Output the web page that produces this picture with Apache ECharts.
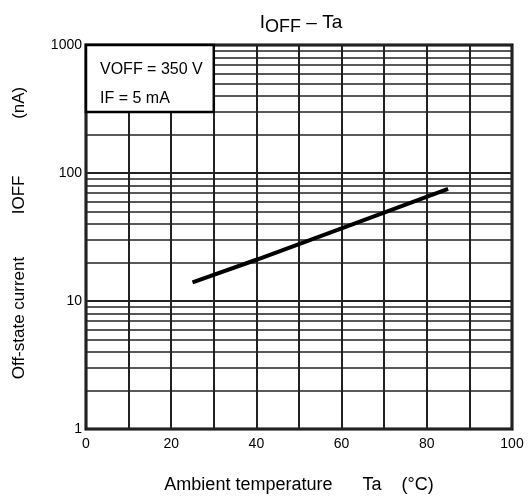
<!DOCTYPE html>
<html>
<head>
<meta charset="utf-8">
<script src="https://cdn.jsdelivr.net/npm/echarts@6/dist/echarts.min.js"></script>
<style>html,body{margin:0;padding:0;background:#fff}#c{width:528px;height:502px}</style>
</head>
<body>
<div id="c"></div>
<script>
// Data
const tempC = [25, 40, 60, 85];          // Ambient temperature Ta (°C)
const ioffNA = [14, 21, 37, 75];         // Off-state current IOFF (nA)
const xTickLabels = [0, 20, 40, 60, 80, 100];
const yTickLabels = [1, 10, 100, 1000];
const conditions = ['VOFF = 350 V', 'IF = 5 mA'];
const boxRange = {x: [0, 30], y: [300, 1000]};   // condition box extent in data units

// minor log grid lines (2..9 in each decade)
const minorY = [];
[1, 10, 100].forEach(d => { for (let k = 2; k <= 9; k++) minorY.push(k * d); });

const chart = echarts.init(document.getElementById('c'), null, {renderer: 'canvas'});
const font = 'Liberation Sans, Arial, Helvetica, sans-serif';
chart.setOption({
  animation: false,
  backgroundColor: '#fff',
  title: {
    text: '{a|I}{s|OFF}{a| – Ta}',
    left: 296, top: 5, textAlign: 'center',
    textStyle: {
      fontWeight: 'normal',
      rich: {
        a: {fontFamily: font, fontSize: 19, color: '#000', fontWeight: 'normal'},
        s: {fontFamily: font, fontSize: 18, color: '#000', fontWeight: 'normal', padding: [8, 0, 0, 0]}
      }
    }
  },
  grid: {left: 86, right: 16, top: 45, bottom: 73, show: true, borderColor: '#000', borderWidth: 3, backgroundColor: 'transparent'},
  xAxis: {
    type: 'value', min: 0, max: 100, interval: 10,
    name: 'Ambient temperature      Ta    (°C)',
    nameLocation: 'middle', nameGap: 47,
    nameTextStyle: {fontFamily: font, fontSize: 18, color: '#000'},
    axisLine: {show: false}, axisTick: {show: false},
    axisLabel: {fontFamily: font, fontSize: 14, color: '#000', margin: 8,
      formatter: v => xTickLabels.indexOf(v) >= 0 ? String(v) : ''},
    splitLine: {show: true, lineStyle: {color: '#222', width: 2}}
  },
  yAxis: {
    type: 'log', logBase: 10, min: 1, max: 1000,
    name: 'Off-state current         IOFF            (nA)',
    nameLocation: 'middle', nameGap: 58,
    nameTextStyle: {fontFamily: font, fontSize: 17, color: '#000', padding: [0, 0, 0, 8]},
    axisLine: {show: false}, axisTick: {show: false},
    axisLabel: {fontFamily: font, fontSize: 14, color: '#000', margin: 4,
      formatter: v => yTickLabels.indexOf(Math.round(v)) >= 0 ? String(Math.round(v)) : ''},
    splitLine: {show: true, lineStyle: {color: '#222', width: 2}}
  },
  series: [
    {
      type: 'line', data: [], z: 1, silent: true,
      markLine: {
        silent: true, symbol: 'none', animation: false,
        label: {show: false},
        lineStyle: {color: '#222', width: 1.5, type: 'solid'},
        data: minorY.map(v => ({yAxis: v}))
      }
    },
    {
      type: 'line', z: 5, showSymbol: false, smooth: false,
      lineStyle: {color: '#000', width: 4},
      data: tempC.map((t, i) => [t, ioffNA[i]])
    }
  ]
});

// condition box placed through the chart's own scales
const p0 = chart.convertToPixel({gridIndex: 0}, [boxRange.x[0], boxRange.y[1]]);
const p1 = chart.convertToPixel({gridIndex: 0}, [boxRange.x[1], boxRange.y[0]]);
chart.setOption({
  graphic: [
    {
      type: 'rect', z: 100,
      shape: {x: p0[0], y: p0[1], width: p1[0] - p0[0], height: p1[1] - p0[1]},
      style: {fill: '#fff', stroke: '#000', lineWidth: 2.5}
    },
    {
      type: 'text', z: 101, x: p0[0] + 14, y: p0[1] + 25,
      style: {text: conditions[0], font: '16px ' + font, fill: '#000', textVerticalAlign: 'middle'}
    },
    {
      type: 'text', z: 101, x: p0[0] + 14, y: p0[1] + 54,
      style: {text: conditions[1], font: '16px ' + font, fill: '#000', textVerticalAlign: 'middle'}
    }
  ]
});
</script>
</body>
</html>
